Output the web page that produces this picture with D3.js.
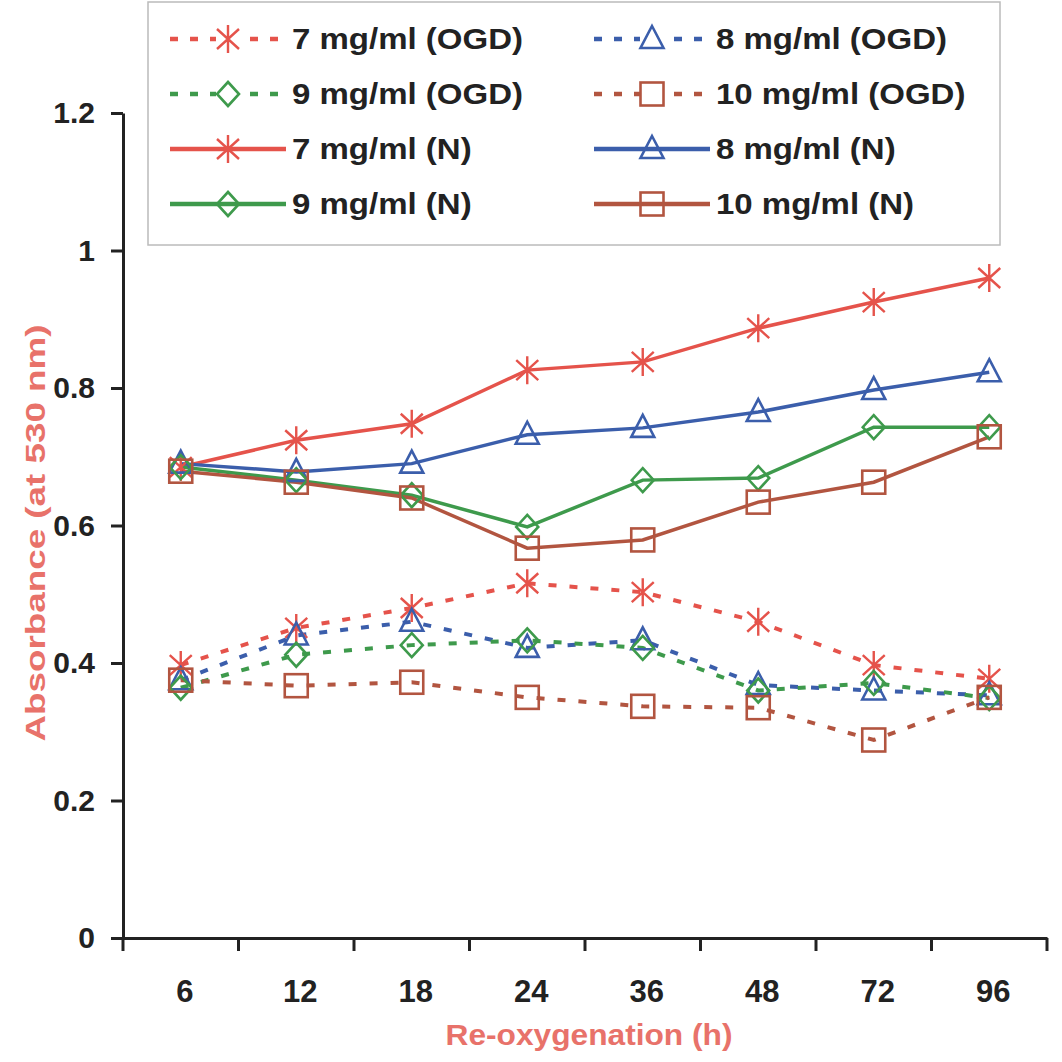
<!DOCTYPE html>
<html lang="en">
  <head>
    <meta charset="utf-8" />
    <title>Absorbance vs re-oxygenation</title>
    <script src="https://cdn.jsdelivr.net/npm/d3@7"></script>
    <style>
      body { margin: 0; background: #fff; }
    </style>
  </head>
  <body>
    <script>
      // categories (hours of re-oxygenation)
      var hours = ["6", "12", "18", "24", "36", "48", "72", "96"];
      var yTicks = [0, 0.2, 0.4, 0.6, 0.8, 1, 1.2];

      // normoxia series
      var n7 = [0.685, 0.724, 0.748, 0.826, 0.838, 0.887, 0.925, 0.96];
      var n8 = [0.69, 0.678, 0.69, 0.732, 0.742, 0.765, 0.797, 0.823];
      var n9 = [0.685, 0.666, 0.644, 0.598, 0.666, 0.669, 0.743, 0.743];
      var n10 = [0.679, 0.663, 0.64, 0.567, 0.579, 0.634, 0.663, 0.729];

      // OGD series
      var ogd7 = [0.397, 0.451, 0.48, 0.516, 0.503, 0.46, 0.397, 0.377];
      var ogd8 = [0.375, 0.44, 0.46, 0.422, 0.433, 0.368, 0.36, 0.353];
      var ogd9 = [0.364, 0.412, 0.426, 0.433, 0.422, 0.36, 0.371, 0.349];
      var ogd10 = [0.375, 0.367, 0.372, 0.35, 0.337, 0.335, 0.288, 0.35];

      var red = "#e5534b", blue = "#3b5eab", green = "#3e9a4c", brown = "#b25540";

      var series = [
        { name: "7 mg/ml (OGD)", values: ogd7, color: red, marker: "star", dashed: true },
        { name: "8 mg/ml (OGD)", values: ogd8, color: blue, marker: "tri", dashed: true },
        { name: "9 mg/ml (OGD)", values: ogd9, color: green, marker: "diamond", dashed: true },
        { name: "10 mg/ml (OGD)", values: ogd10, color: brown, marker: "square", dashed: true },
        { name: "7 mg/ml (N)", values: n7, color: red, marker: "star", dashed: false },
        { name: "8 mg/ml (N)", values: n8, color: blue, marker: "tri", dashed: false },
        { name: "9 mg/ml (N)", values: n9, color: green, marker: "diamond", dashed: false },
        { name: "10 mg/ml (N)", values: n10, color: brown, marker: "square", dashed: false }
      ];

      var W = 1062, H = 1062;
      var x0 = 123, x1 = 1047, yTop = 113, yBot = 938;
      var font = "'Liberation Sans', Arial, sans-serif";

      var svg = d3.select("body").append("svg").attr("width", W).attr("height", H);

      var x = d3.scaleBand().domain(hours).range([x0, x1]);
      var y = d3.scaleLinear().domain([0, 1.2]).range([yBot, yTop]);

      function cx(i) { return x(hours[i]) + x.bandwidth() / 2; }

      // marker shapes
      function drawMarker(g, kind, color) {
        if (kind === "star") {
          g.append("path")
            .attr("d", "M0,-14V14M-11,-10L11,10M-11,10L11,-10")
            .attr("stroke", color).attr("stroke-width", 2.4).attr("fill", "none");
        } else if (kind === "tri") {
          g.append("path")
            .attr("d", "M0,-13L11.5,9H-11.5Z")
            .attr("stroke", color).attr("stroke-width", 2.6).attr("fill", "none");
        } else if (kind === "diamond") {
          g.append("path")
            .attr("d", "M0,-12L11,0L0,12L-11,0Z")
            .attr("stroke", color).attr("stroke-width", 2.6).attr("fill", "none");
        } else {
          g.append("rect")
            .attr("x", -11.5).attr("y", -11.5).attr("width", 23).attr("height", 23)
            .attr("stroke", color).attr("stroke-width", 2.6).attr("fill", "none");
        }
      }

      // y axis
      var yAxis = d3.axisLeft(y).tickValues(yTicks).tickSize(12).tickSizeOuter(0)
        .tickFormat(function (d) { return d3.format("")(d); });
      var gy = svg.append("g").attr("transform", "translate(" + x0 + ",0)").call(yAxis);
      gy.select(".domain").attr("stroke", "#222").attr("stroke-width", 3);
      gy.selectAll(".tick line").attr("stroke", "#222").attr("stroke-width", 3);
      gy.selectAll(".tick text")
        .attr("x", -28)
        .attr("font-family", font)
        .attr("font-weight", "bold").attr("font-size", 30).attr("fill", "#222");

      // x axis with ticks on band boundaries
      var xAxis = d3.axisBottom(x).tickSize(0).tickSizeOuter(0);
      var gx = svg.append("g").attr("transform", "translate(0," + yBot + ")").call(xAxis);
      gx.select(".domain").attr("stroke", "#222").attr("stroke-width", 3);
      gx.selectAll(".tick text")
        .attr("x", 4).attr("y", 64).attr("dy", null)
        .attr("font-family", font)
        .attr("font-weight", "bold").attr("font-size", 31).attr("fill", "#222");
      var bounds = hours.map(function (h) { return x(h); }).concat([x1]);
      gx.selectAll(".bt").data(bounds).enter().append("line")
        .attr("x1", function (d) { return d; }).attr("x2", function (d) { return d; })
        .attr("y1", 0).attr("y2", 13)
        .attr("stroke", "#222").attr("stroke-width", 3);

      // axis titles
      svg.append("text")
        .attr("transform", "translate(45,533) rotate(-90)")
        .attr("text-anchor", "middle")
        .attr("font-family", font).attr("font-weight", "bold").attr("font-size", 28)
        .attr("textLength", 417).attr("lengthAdjust", "spacingAndGlyphs")
        .attr("fill", "#e8726a")
        .text("Absorbance (at 530 nm)");
      svg.append("text")
        .attr("x", 589).attr("y", 1045)
        .attr("text-anchor", "middle")
        .attr("font-family", font).attr("font-weight", "bold").attr("font-size", 30)
        .attr("textLength", 287).attr("lengthAdjust", "spacingAndGlyphs")
        .attr("fill", "#e8726a")
        .text("Re-oxygenation (h)");

      // lines
      var line = d3.line()
        .x(function (d, i) { return cx(i); })
        .y(function (d) { return y(d); });

      series.forEach(function (s) {
        svg.append("path")
          .datum(s.values)
          .attr("d", line)
          .attr("fill", "none")
          .attr("stroke", s.color)
          .attr("stroke-width", s.dashed ? 4 : 3.5)
          .attr("stroke-dasharray", s.dashed ? "8,13" : null);
      });
      series.forEach(function (s) {
        s.values.forEach(function (v, i) {
          var g = svg.append("g").attr("transform", "translate(" + cx(i) + "," + y(v) + ")");
          drawMarker(g, s.marker, s.color);
        });
      });

      // legend
      var leg = svg.append("g");
      leg.append("rect")
        .attr("x", 148).attr("y", 2).attr("width", 852).attr("height", 243)
        .attr("fill", "#fff").attr("stroke", "#bbb").attr("stroke-width", 1.5);
      series.forEach(function (s, j) {
        var col = j % 2, row = Math.floor(j / 2);
        var mx = col === 0 ? 228 : 652;
        var ly = 39 + row * 55;
        var g = leg.append("g");
        if (s.dashed) {
          g.append("line")
            .attr("x1", mx - 58).attr("x2", mx + 52).attr("y1", ly).attr("y2", ly)
            .attr("stroke", s.color).attr("stroke-width", 4.5)
            .attr("stroke-dasharray", "8,12");
        } else {
          g.append("line")
            .attr("x1", mx - 58).attr("x2", mx + 58).attr("y1", ly).attr("y2", ly)
            .attr("stroke", s.color).attr("stroke-width", 4.5);
        }
        var m = g.append("g").attr("transform", "translate(" + mx + "," + ly + ")");
        m.append("rect").attr("x", -12).attr("y", -11).attr("width", 24).attr("height", 22)
          .attr("fill", s.dashed ? "#fff" : "none");
        drawMarker(m, s.marker, s.color);
        var t = g.append("text")
          .attr("x", mx + 64).attr("y", ly + 10)
          .attr("font-family", font).attr("font-weight", "bold").attr("font-size", 30)
          .attr("fill", "#222")
          .text(s.name);
        var len = t.node().getComputedTextLength();
        t.attr("textLength", len * 1.1).attr("lengthAdjust", "spacingAndGlyphs");
      });
    </script>
  </body>
</html>
